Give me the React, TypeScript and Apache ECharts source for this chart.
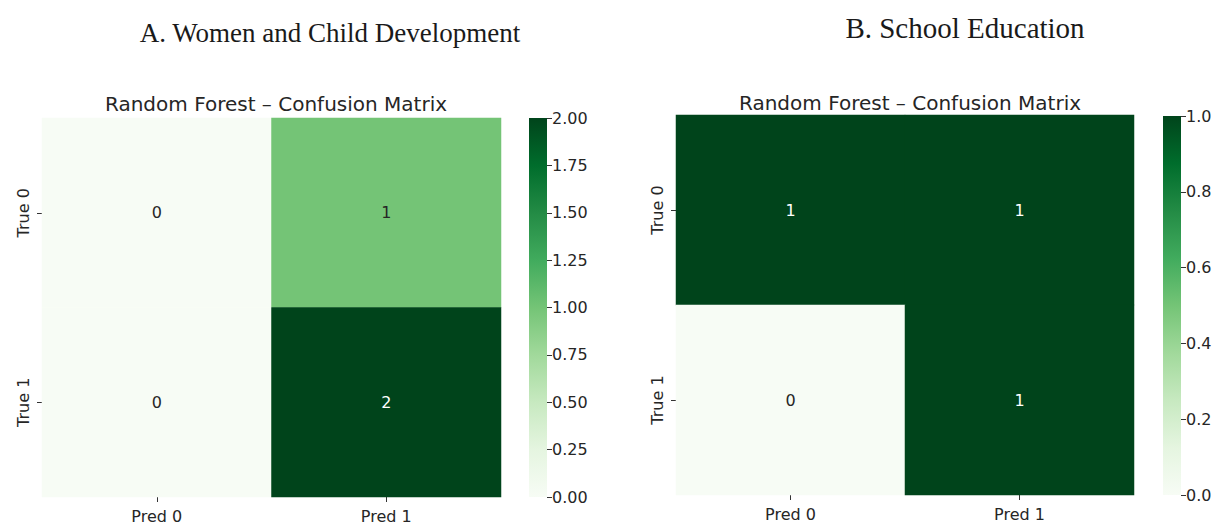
import React, { useEffect, useRef } from "react";
import * as echarts from "echarts";

// Axis categories
const predLabels = ["Pred 0", "Pred 1"];
const trueLabels = ["True 0", "True 1"];

// Confusion matrices, rows = true class, columns = predicted class
const wcdMatrix = [
  [0, 1],
  [0, 2],
];
const schoolMatrix = [
  [1, 1],
  [0, 1],
];

// Colour-bar ranges and tick spacing
const wcdRange = { min: 0, max: 2, step: 0.25, digits: 2 };
const schoolRange = { min: 0, max: 1, step: 0.2, digits: 1 };

// Matplotlib "Greens" colormap, low to high
const greens = [
  "#f7fcf5",
  "#e5f5e0",
  "#c7e9c0",
  "#a1d99b",
  "#74c476",
  "#41ab5d",
  "#238b45",
  "#006d2c",
  "#00441b",
];

const SANS = "DejaVu Sans";
const SERIF = "Liberation Serif";
const TEXT = "#262626";

function cells(matrix: number[][], max: number) {
  const out: any[] = [];
  matrix.forEach((row, r) =>
    row.forEach((v, c) => {
      out.push({
        value: [c, r, v],
        label: { color: v / max > 0.6 ? "#ffffff" : TEXT },
      });
    })
  );
  return out;
}

function gradient() {
  // top of the bar is the high end of the scale
  const stops = greens
    .slice()
    .reverse()
    .map((color, i) => ({ offset: i / (greens.length - 1), color }));
  return new echarts.graphic.LinearGradient(0, 0, 0, 1, stops);
}

const tickStyle = { show: true, length: 5, lineStyle: { color: "#333", width: 1 } };

export default function App() {
  const ref = useRef<HTMLDivElement>(null);

  useEffect(() => {
    if (!ref.current) return;
    const chart = echarts.init(ref.current, undefined, { renderer: "svg" });

    const heatX = (gridIndex: number) => ({
      type: "category",
      gridIndex,
      data: predLabels,
      position: "bottom",
      axisLine: { show: false },
      axisTick: { ...tickStyle, alignWithLabel: true },
      axisLabel: { fontFamily: SANS, fontSize: 16, color: TEXT, margin: 11 },
      splitArea: { show: false },
    });
    const heatY = (gridIndex: number) => ({
      type: "category",
      gridIndex,
      data: trueLabels,
      inverse: true,
      axisLine: { show: false },
      axisTick: { ...tickStyle, alignWithLabel: true },
      axisLabel: {
        fontFamily: SANS,
        fontSize: 16,
        color: TEXT,
        rotate: 90,
        margin: 11,
      },
      splitArea: { show: false },
    });
    const barX = (gridIndex: number) => ({
      type: "category",
      gridIndex,
      data: [""],
      show: false,
    });
    const barY = (gridIndex: number, r: typeof wcdRange) => ({
      type: "value",
      gridIndex,
      position: "right",
      min: r.min,
      max: r.max,
      interval: r.step,
      axisLine: { show: false },
      axisTick: tickStyle,
      splitLine: { show: false },
      axisLabel: {
        fontFamily: SANS,
        fontSize: 16,
        color: TEXT,
        margin: 5,
        formatter: (v: number) => v.toFixed(r.digits),
      },
    });

    chart.setOption({
      animation: false,
      backgroundColor: "#ffffff",
      title: [
        {
          text: "A. Women and Child Development",
          left: 325,
          top: 14,
          textAlign: "center",
          textStyle: { fontFamily: SERIF, fontSize: 27, fontWeight: "normal", color: "#1a1a1a" },
        },
        {
          text: "B. School Education",
          left: 960,
          top: 8,
          textAlign: "center",
          textStyle: { fontFamily: SERIF, fontSize: 29, fontWeight: "normal", color: "#1a1a1a" },
        },
        {
          text: "Random Forest – Confusion Matrix",
          left: 271,
          top: 89,
          textAlign: "center",
          textStyle: { fontFamily: SANS, fontSize: 20, fontWeight: "normal", color: TEXT },
        },
        {
          text: "Random Forest – Confusion Matrix",
          left: 905,
          top: 88,
          textAlign: "center",
          textStyle: { fontFamily: SANS, fontSize: 20, fontWeight: "normal", color: TEXT },
        },
      ],
      grid: [
        { left: 42, top: 118, width: 459, height: 379 },
        { left: 529, top: 118, width: 18, height: 379 },
        { left: 676, top: 115, width: 458, height: 380 },
        { left: 1163, top: 116, width: 18, height: 379 },
      ],
      xAxis: [heatX(0), barX(1), heatX(2), barX(3)],
      yAxis: [heatY(0), barY(1, wcdRange), heatY(2), barY(3, schoolRange)],
      visualMap: [
        {
          type: "continuous",
          show: false,
          seriesIndex: 0,
          min: wcdRange.min,
          max: wcdRange.max,
          inRange: { color: greens },
        },
        {
          type: "continuous",
          show: false,
          seriesIndex: 2,
          min: schoolRange.min,
          max: schoolRange.max,
          inRange: { color: greens },
        },
      ],
      series: [
        {
          type: "heatmap",
          xAxisIndex: 0,
          yAxisIndex: 0,
          data: cells(wcdMatrix, wcdRange.max),
          label: {
            show: true,
            fontFamily: SANS,
            fontSize: 16,
            formatter: (p: any) => String(p.value[2]),
          },
          itemStyle: { borderWidth: 0 },
          emphasis: { disabled: true },
        },
        {
          type: "bar",
          xAxisIndex: 1,
          yAxisIndex: 1,
          data: [wcdRange.max],
          barWidth: "100%",
          itemStyle: { color: gradient() },
          silent: true,
        },
        {
          type: "heatmap",
          xAxisIndex: 2,
          yAxisIndex: 2,
          data: cells(schoolMatrix, schoolRange.max),
          label: {
            show: true,
            fontFamily: SANS,
            fontSize: 16,
            formatter: (p: any) => String(p.value[2]),
          },
          itemStyle: { borderWidth: 0 },
          emphasis: { disabled: true },
        },
        {
          type: "bar",
          xAxisIndex: 3,
          yAxisIndex: 3,
          data: [schoolRange.max],
          barWidth: "100%",
          itemStyle: { color: gradient() },
          silent: true,
        },
      ],
    });

    return () => chart.dispose();
  }, []);

  return (
    <div
      ref={ref}
      style={{ position: "absolute", left: 0, top: 0, width: 1231, height: 527 }}
    />
  );
}
